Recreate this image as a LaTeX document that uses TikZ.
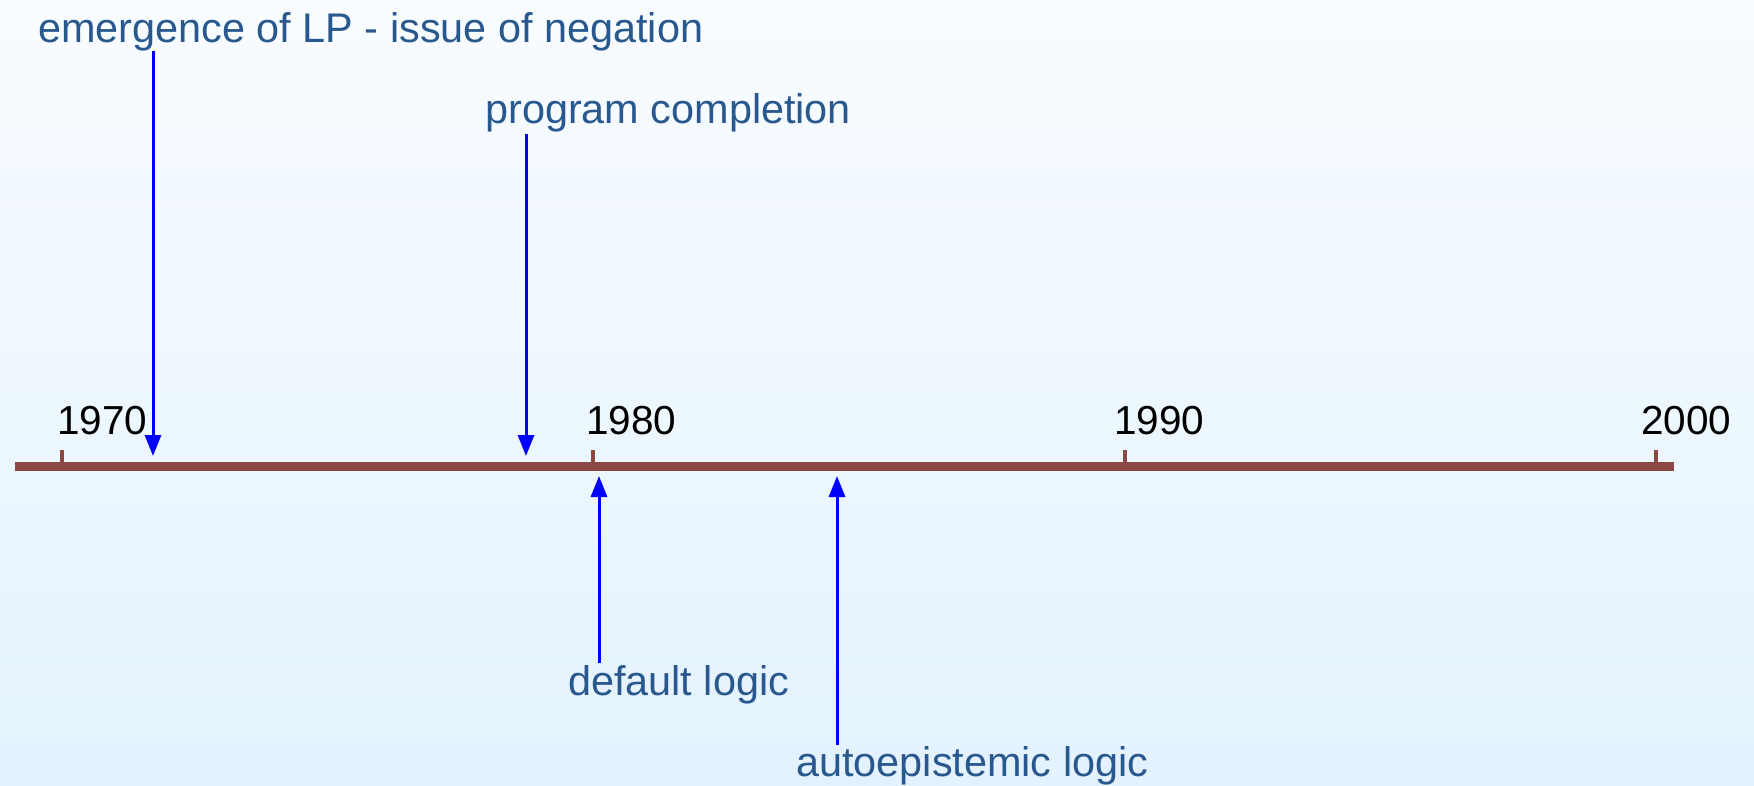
\documentclass[tikz,border=0pt]{standalone}
\usepackage{fontspec}
\setmainfont{Liberation Sans}
\usetikzlibrary{arrows.meta}
\definecolor{bgtop}{RGB}{248,252,255}
\definecolor{bgbot}{RGB}{227,242,253}
\definecolor{axiscol}{RGB}{139,71,68}
\definecolor{labcol}{RGB}{40,88,142}
\tikzset{
  yearlab/.style={anchor=base west, inner sep=0pt, text=black, font=\fontsize{40.5}{48}\selectfont},
  evlab/.style={anchor=base west, inner sep=0pt, text=labcol, font=\fontsize{41.4}{49}\selectfont},
  evarrow/.style={draw=blue, line width=3pt, -{Triangle[length=21pt,width=16pt]}},
  tickmark/.style={draw=axiscol, line width=3.5pt},
  axisline/.style={draw=axiscol, line width=9pt}
}
\begin{document}
\begin{tikzpicture}[x=1pt,y=-1pt]
\useasboundingbox (0,0) rectangle (1754,786);
\shade[top color=bgtop, bottom color=bgbot] (0,0) rectangle (1754,786);
% axis
\coordinate (axl) at (15,466);
\coordinate (axr) at (1674,466);
\draw[axisline] (axl) -- (axr);
\foreach \x/\n in {62/t70,593/t80,1125/t90,1656/t00}{
  \coordinate (\n top) at (\x,450);
  \coordinate (\n bot) at (\x,462);
  \draw[tickmark] (\n top) -- (\n bot);
}
% years
\node[yearlab] (y70) at (57,434) {1970};
\node[yearlab] (y80) at (586,434) {1980};
\node[yearlab] (y90) at (1114,434) {1990};
\node[yearlab] (y00) at (1641,434) {2000};
% event labels
\node[evlab] (e1) at (38,43) {emergence of LP - issue of negation};
\node[evlab] (e2) at (485,124) {program completion};
\node[evlab] (e3) at (568,695) {default logic};
\node[evlab] (e4) at (796,776) {autoepistemic logic};
% arrow ends
\coordinate (s1) at (153,51);
\coordinate (p1) at (153,456);
\coordinate (s2) at (526,134);
\coordinate (p2) at (526,456);
\coordinate (s3) at (599,663);
\coordinate (p3) at (599,476);
\coordinate (s4) at (837,745);
\coordinate (p4) at (837,476);
\draw[evarrow] (s1) -- (p1);
\draw[evarrow] (s2) -- (p2);
\draw[evarrow] (s3) -- (p3);
\draw[evarrow] (s4) -- (p4);
\end{tikzpicture}
\end{document}
